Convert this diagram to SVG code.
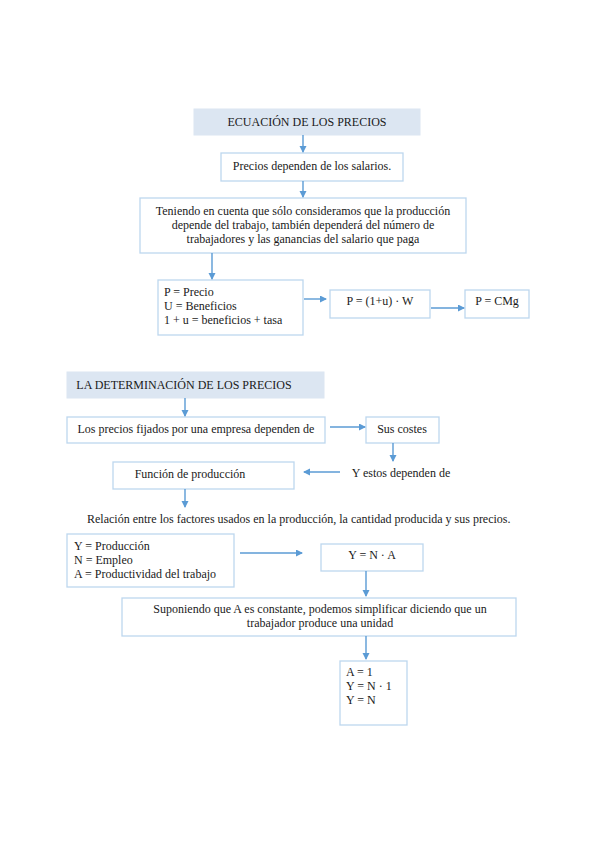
<svg xmlns="http://www.w3.org/2000/svg" width="599" height="848" viewBox="0 0 599 848">
<style>
.bg{fill:#ffffff}
.hdr{fill:#dce6f2;stroke:#dce6f2;stroke-width:1}
.box{fill:#ffffff;stroke:#bdd7ee;stroke-width:1.3}
text{font-family:"Liberation Serif","Times New Roman",serif;font-size:12px;fill:#1a1a1a}
.c{text-anchor:middle}
.con line{stroke:#5b9bd5;stroke-width:1.4}
</style>
<defs>
<marker id="ah" markerWidth="8" markerHeight="8" refX="6" refY="3.5" orient="auto" markerUnits="userSpaceOnUse">
<path d="M0,0 L7,3.5 L0,7 Z" fill="#5b9bd5"/>
</marker>
</defs>
<rect class="bg" x="0" y="0" width="599" height="848"/>

<g id="n1"><rect class="hdr" x="194" y="109" width="226" height="26"/><text class="c" x="307" y="126">ECUACIÓN DE LOS PRECIOS</text></g>
<g id="n2"><rect class="box" x="221" y="153" width="182" height="28"/><text class="c" x="312" y="170">Precios dependen de los salarios.</text></g>
<g id="n3"><rect class="box" x="140" y="198" width="326" height="55"/>
<text class="c" x="303" y="215">Teniendo en cuenta que sólo consideramos que la producción</text>
<text class="c" x="303" y="229">depende del trabajo, también dependerá del número de</text>
<text class="c" x="303" y="243">trabajadores y las ganancias del salario que paga</text></g>
<g id="n4"><rect class="box" x="158" y="280" width="145" height="55"/>
<text x="164" y="296">P = Precio</text>
<text x="164" y="310">U = Beneficios</text>
<text x="164" y="324">1 + u = beneficios + tasa</text></g>
<g id="n5"><rect class="box" x="330" y="290" width="100" height="28"/><text class="c" x="380" y="305">P = (1+u) · W</text></g>
<g id="n6"><rect class="box" x="465" y="290" width="64" height="28"/><text class="c" x="497" y="305">P = CMg</text></g>

<g id="n7"><rect class="hdr" x="67" y="372" width="257" height="26"/><text class="c" x="184" y="389">LA DETERMINACIÓN DE LOS PRECIOS</text></g>
<g id="n8"><rect class="box" x="67" y="417" width="258" height="26"/><text class="c" x="196" y="433">Los precios fijados por una empresa dependen de</text></g>
<g id="n9"><rect class="box" x="366" y="417" width="73" height="26"/><text class="c" x="402" y="433">Sus costes</text></g>
<g id="n10"><text class="c" x="401" y="477">Y estos dependen de</text></g>
<g id="n11"><rect class="box" x="113" y="462" width="181" height="27"/><text class="c" x="190" y="478">Función de producción</text></g>
<g id="n12"><text x="87" y="523">Relación entre los factores usados en la producción, la cantidad producida y sus precios.</text></g>
<g id="n13"><rect class="box" x="67" y="534" width="167" height="53"/>
<text x="74" y="550">Y = Producción</text>
<text x="74" y="564">N = Empleo</text>
<text x="74" y="578">A = Productividad del trabajo</text></g>
<g id="n14"><rect class="box" x="321" y="544" width="102" height="27"/><text class="c" x="372" y="559">Y = N · A</text></g>
<g id="n15"><rect class="box" x="122" y="598" width="394" height="38"/>
<text class="c" x="320" y="613">Suponiendo que A es constante, podemos simplificar diciendo que un</text>
<text class="c" x="320" y="627">trabajador produce una unidad</text></g>
<g id="n16"><rect class="box" x="340" y="661" width="67" height="64"/>
<text x="346" y="676">A = 1</text>
<text x="346" y="690">Y = N · 1</text>
<text x="346" y="704">Y = N</text></g>

<g id="connectors" class="con">
<line x1="303" y1="135" x2="303" y2="152" marker-end="url(#ah)"/>
<line x1="303" y1="181" x2="303" y2="197" marker-end="url(#ah)"/>
<line x1="212" y1="253" x2="212" y2="279" marker-end="url(#ah)"/>
<line x1="304" y1="299" x2="326" y2="299" marker-end="url(#ah)"/>
<line x1="431" y1="308" x2="464" y2="308" marker-end="url(#ah)"/>
<line x1="185" y1="398" x2="185" y2="416" marker-end="url(#ah)"/>
<line x1="330" y1="427" x2="365" y2="427" marker-end="url(#ah)"/>
<line x1="393" y1="443" x2="393" y2="461" marker-end="url(#ah)"/>
<line x1="340" y1="472" x2="304" y2="472" marker-end="url(#ah)"/>
<line x1="185" y1="489" x2="185" y2="507" marker-end="url(#ah)"/>
<line x1="240" y1="553" x2="302" y2="553" marker-end="url(#ah)"/>
<line x1="366" y1="571" x2="366" y2="596" marker-end="url(#ah)"/>
<line x1="366" y1="636" x2="366" y2="659" marker-end="url(#ah)"/>
</g>
</svg>
